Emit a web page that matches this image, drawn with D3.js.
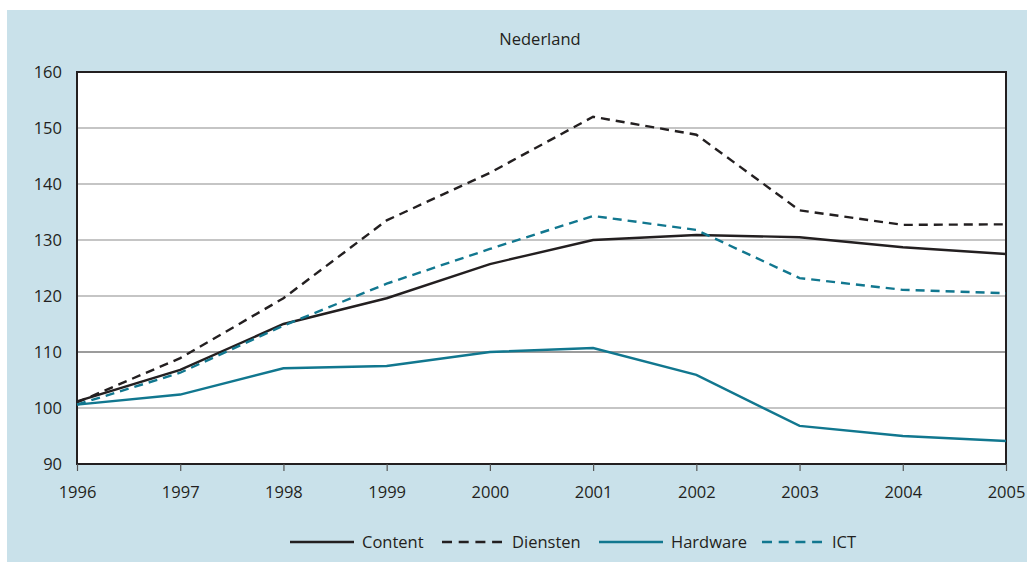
<script src="https://d3js.org/d3.v7.min.js"></script>

<style type="text/css">
  body { margin: 0; background: #fff; }
  svg { width: 1027px; height: 562px; display: block; }
  text { font-family: "Open Sans", "Noto Sans", sans-serif; fill: #231f20; }
</style>

<body></body>

<script>
  // data
  var years = [1996, 1997, 1998, 1999, 2000, 2001, 2002, 2003, 2004, 2005];
  var yTicks = [90, 100, 110, 120, 130, 140, 150, 160];
  var content  = [101.2, 106.8, 115.0, 119.6, 125.7, 130.0, 130.9, 130.5, 128.7, 127.5];
  var diensten = [101.0, 108.9, 119.6, 133.5, 142.0, 152.0, 148.8, 135.3, 132.7, 132.8];
  var hardware = [100.6, 102.4, 107.1, 107.5, 110.0, 110.7, 105.9, 96.8, 95.0, 94.1];
  var ict      = [100.6, 106.3, 114.7, 122.2, 128.4, 134.3, 131.8, 123.2, 121.1, 120.5];

  var black = '#231f20';
  var teal = '#11778f';
  var series = [
    {name: 'Content',  values: content,  color: black, dash: null},
    {name: 'Diensten', values: diensten, color: black, dash: '9,6'},
    {name: 'Hardware', values: hardware, color: teal,  dash: null},
    {name: 'ICT',      values: ict,      color: teal,  dash: '9,6'}
  ];

  // properties
  var width = 1027, height = 562;
  var margin = {top: 72, bottom: 98, left: 77, right: 21};
  var fontSize = 16.5;
  var svg = d3.select('body').append('svg')
    .attr('width', width).attr('height', height);

  // panel background
  svg.append('rect')
    .attr('x', 7).attr('y', 10)
    .attr('width', width - 7).attr('height', height - 10)
    .attr('fill', '#c9e1ea');

  var xScale = d3.scaleLinear()
    .domain([1996, 2005])
    .range([margin.left, width - margin.right]);
  var yScale = d3.scaleLinear()
    .domain([90, 160])
    .range([height - margin.bottom, margin.top]);

  // plot area
  svg.append('rect')
    .attr('x', xScale(1996)).attr('y', yScale(160))
    .attr('width', xScale(2005) - xScale(1996))
    .attr('height', yScale(90) - yScale(160))
    .attr('fill', '#fff');

  // gridlines
  svg.append('g').selectAll('line')
    .data(yTicks.filter(d => d > 90 && d < 160))
    .enter().append('line')
    .attr('x1', xScale(1996)).attr('x2', xScale(2005))
    .attr('y1', d => yScale(d)).attr('y2', d => yScale(d))
    .attr('stroke', d => d == 110 ? '#3a3a3a' : '#8c8c8c')
    .attr('stroke-width', 1.2);

  // frame
  svg.append('rect')
    .attr('x', xScale(1996)).attr('y', yScale(160))
    .attr('width', xScale(2005) - xScale(1996))
    .attr('height', yScale(90) - yScale(160))
    .attr('fill', 'none')
    .attr('stroke', black)
    .attr('stroke-width', 2);

  // axes
  var xAxis = d3.axisBottom(xScale)
    .tickValues(years)
    .tickFormat(d3.format('d'))
    .tickSize(7).tickPadding(15);
  var gx = svg.append('g')
    .attr('transform', 'translate(' + [0, yScale(90)] + ')')
    .call(xAxis);
  gx.select('.domain').remove();
  gx.selectAll('line').attr('stroke', '#555').attr('stroke-width', 1.2);
  gx.selectAll('text').attr('font-size', fontSize).attr('fill', black);

  var yAxis = d3.axisLeft(yScale)
    .tickValues(yTicks)
    .tickSize(0).tickPadding(15);
  var gy = svg.append('g')
    .attr('transform', 'translate(' + [xScale(1996), 0] + ')')
    .call(yAxis);
  gy.select('.domain').remove();
  gy.selectAll('text').attr('font-size', fontSize).attr('fill', black);

  // lines
  var line = d3.line()
    .x((d, i) => xScale(years[i]))
    .y(d => yScale(d));

  svg.append('g').selectAll('path')
    .data(series)
    .enter().append('path')
    .attr('d', d => line(d.values))
    .attr('fill', 'none')
    .attr('stroke', d => d.color)
    .attr('stroke-width', 2.4)
    .attr('stroke-dasharray', d => d.dash);

  // title
  svg.append('text')
    .attr('x', 540).attr('y', 45)
    .attr('text-anchor', 'middle')
    .attr('font-size', fontSize)
    .text('Nederland');

  // legend
  var legendX = [290, 442, 599, 762];
  var lg = svg.append('g').selectAll('g')
    .data(series)
    .enter().append('g')
    .attr('transform', (d, i) => 'translate(' + [legendX[i], 542] + ')');
  lg.append('line')
    .attr('x1', 0).attr('x2', d => d.dash ? 60 : 64)
    .attr('stroke', d => d.color)
    .attr('stroke-width', 2.4)
    .attr('stroke-dasharray', d => d.dash ? '10,6.7' : null);
  lg.append('text')
    .attr('x', d => d.dash ? 70 : 72)
    .attr('y', 6)
    .attr('font-size', fontSize)
    .text(d => d.name);
</script>
